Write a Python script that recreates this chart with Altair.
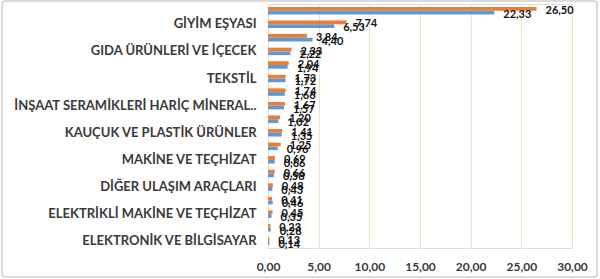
import altair as alt
import pandas as pd

categories = [
    "DERİ VE İLGİLİ ÜRÜNLER",
    "GİYİM EŞYASI",
    "MOBİLYA",
    "GIDA ÜRÜNLERİ VE İÇECEK",
    "AĞAÇ ÜRÜNLERİ",
    "TEKSTİL",
    "DİĞER İMALATLAR",
    "İNŞAAT SERAMİKLERİ HARİÇ MİNERAL..",
    "KAĞIT ÜRÜNLERİ",
    "KAUÇUK VE PLASTİK ÜRÜNLER",
    "METAL EŞYA",
    "MAKİNE VE TEÇHİZAT",
    "KİMYASAL ÜRÜNLER",
    "DİĞER ULAŞIM ARAÇLARI",
    "ANA METAL",
    "ELEKTRİKLİ MAKİNE VE TEÇHİZAT",
    "MOTORLU KARA TAŞITLARI",
    "ELEKTRONİK VE BİLGİSAYAR",
]
shown_labels = categories[1::2]
series_a = [26.50, 7.74, 3.84, 2.33, 2.04, 1.73, 1.74, 1.67, 1.20, 1.41, 1.25, 0.69, 0.66, 0.48, 0.41, 0.45, 0.23, 0.13]
series_b = [22.33, 6.53, 4.40, 2.22, 1.94, 1.72, 1.66, 1.57, 1.02, 1.35, 0.96, 0.66, 0.58, 0.43, 0.46, 0.35, 0.28, 0.14]
series_names = ["A", "B"]
x_ticks = [0, 5, 10, 15, 20, 25, 30]

rows = []
for c, a, b in zip(categories, series_a, series_b):
    rows.append({"cat": c, "series": series_names[0], "value": a})
    rows.append({"cat": c, "series": series_names[1], "value": b})
df = pd.DataFrame(rows)
df["label"] = df["value"].map(lambda v: f"{v:.2f}".replace(".", ","))

FONT = "Lato"
y_enc = alt.Y(
    "cat:N", sort=categories, title=None,
    scale=alt.Scale(paddingInner=0.45, paddingOuter=0.22),
    axis=alt.Axis(values=shown_labels, ticks=False, domain=False, labelFont=FONT,
                  labelFontWeight="bold", labelFontSize=13, labelColor="#3a3a3a",
                  labelPadding=12, labelLimit=300),
)
yoff = alt.YOffset("series:N", sort=series_names, scale=alt.Scale(paddingInner=0))
x_enc = alt.X(
    "value:Q", title=None,
    scale=alt.Scale(domain=[0, 30], nice=False),
    axis=alt.Axis(values=x_ticks, labelExpr="replace(format(datum.value, '.2f'), '.', ',')",
                  ticks=False, domain=False, grid=True, gridColor="#f3e3c2", gridWidth=1,
                  labelFlush=False, labelBound=False,
                  labelFont=FONT, labelFontWeight="bold", labelFontSize=12,
                  labelColor="#3a3a3a", labelPadding=13),
)

bars = alt.Chart(df).mark_bar().encode(
    x=x_enc, y=y_enc, yOffset=yoff,
    color=alt.Color("series:N", sort=series_names,
                    scale=alt.Scale(domain=series_names, range=["#ed7d31", "#5b9bd5"]),
                    legend=None),
)
texts = alt.Chart(df).mark_text(align="left", baseline="middle", dx=9, dy=2,
                                font=FONT, fontWeight="bold", fontSize=11,
                                color="#111111").encode(
    x="value:Q", y=alt.Y("cat:N", sort=categories), yOffset=yoff, text="label:N"
)
border = alt.Chart(pd.DataFrame({"k": [0]})).mark_rect(
    fill=None, stroke="#cfcfcf", strokeWidth=1.5, cornerRadius=3, clip=False
).encode(x=alt.value(-266), x2=alt.value(329), y=alt.value(-3), y2=alt.value(29 + 244))

chart = alt.layer(border, bars, texts).properties(
    width=304, height=244,
    autosize=alt.AutoSizeParams(type="none"),
    padding={"left": 268, "top": 4, "right": 28, "bottom": 31},
).configure_view(fill="#fef1d4", stroke=None).configure(background="white")

chart.save("out.html", embed_options={"renderer": "svg", "actions": False})
